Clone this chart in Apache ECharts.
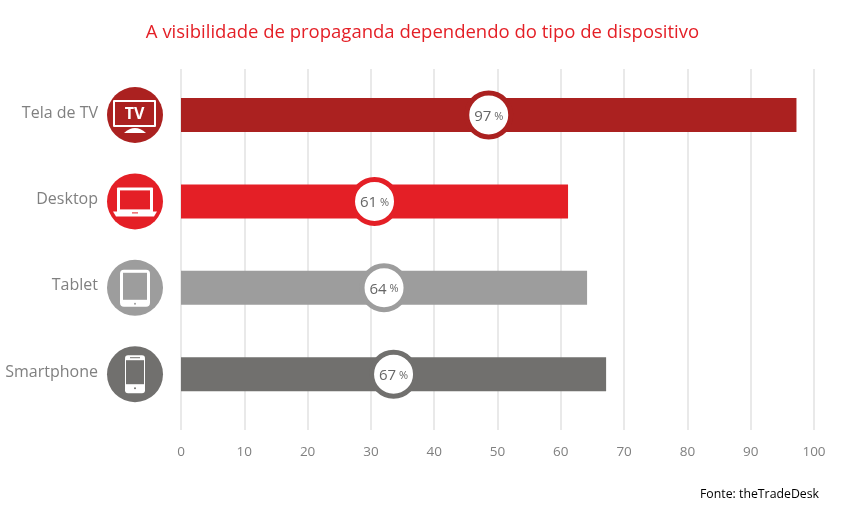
<!DOCTYPE html>
<html>
<head>
<meta charset="utf-8">
<title>Visibilidade de propaganda</title>
<script src="https://cdn.jsdelivr.net/npm/echarts@6/dist/echarts.min.js"></script>
<style>
html, body { margin: 0; padding: 0; background: #fff; }
#chart { width: 845px; height: 520px; }
</style>
</head>
<body>
<div id="chart"></div>
<script>
var titleText = 'A visibilidade de propaganda dependendo do tipo de dispositivo'
var sourceText = 'Fonte: theTradeDesk'
var categories = ['Tela de TV', 'Desktop', 'Tablet', 'Smartphone']
var values = [97, 61, 64, 67]
var colors = ['#ab2120', '#e41f26', '#9d9d9d', '#71706e']
var iconNames = ['tv', 'laptop', 'tablet', 'phone']

var fontName = '"Open Sans", sans-serif'

// 图标相对圆心绘制
function rect(x, y, w, h, fill, r) {
    return { type: 'rect', shape: { x: x, y: y, width: w, height: h, r: r || 0 }, style: { fill: fill } }
}

function getIcon(name, color) {
    if (name === 'tv') {
        return [
            rect(-22, -15, 43, 27, '#fff', 1),
            rect(-20, -13, 39, 23, color),
            { type: 'text', style: { text: 'TV', x: -0.5, y: -1, fill: '#fff', font: 'bold 16px ' + fontName, align: 'center', verticalAlign: 'middle' } },
            { type: 'path', shape: { pathData: 'M-11 18 Q0 8 11 18 Z' }, style: { fill: '#fff' } }
        ]
    }
    if (name === 'laptop') {
        return [
            rect(-18, -14, 36, 25, '#fff', 1),
            rect(-15, -11, 30, 19, color),
            { type: 'path', shape: { pathData: 'M-22 10 L22 10 L19 15 L-19 15 Z' }, style: { fill: '#fff' } },
            rect(-3, 11, 6, 1, color)
        ]
    }
    if (name === 'tablet') {
        return [
            rect(-15, -18, 30, 37, '#fff', 4),
            rect(-12, -15, 24, 27, color),
            { type: 'circle', shape: { cx: 0, cy: 16, r: 1 }, style: { fill: color } }
        ]
    }
    return [
        rect(-10, -19, 20, 38, '#fff', 3),
        rect(-9, -14, 18, 24, color),
        rect(-5, -17, 10, 1, color),
        { type: 'circle', shape: { cx: 0, cy: 14, r: 1 }, style: { fill: color } }
    ]
}

function renderIcon(params, api) {
    var pos = api.coord([0, api.value(1)])
    var color = colors[params.dataIndex]
    return {
        type: 'group',
        x: pos[0] - 46,
        y: pos[1],
        children: [
            { type: 'circle', shape: { cx: 0, cy: 0, r: 28 }, style: { fill: color } }
        ].concat(getIcon(iconNames[params.dataIndex], color))
    }
}

var option = {
    animation: false,
    backgroundColor: '#fff',
    title: [
        {
            text: titleText,
            left: 422.5,
            top: 23,
            padding: 0,
            textAlign: 'center',
            textStyle: { color: '#e41f26', fontFamily: fontName, fontSize: 18.5, fontWeight: 'normal' }
        },
        {
            text: sourceText,
            left: 700,
            top: 488,
            padding: 0,
            textStyle: { color: '#000', fontFamily: fontName, fontSize: 12.3, fontWeight: 'normal' }
        }
    ],
    grid: [
        { left: 181, width: 633, top: 69, height: 361 },
        { left: 181, width: 634.5, top: 71.8, height: 345.6 }
    ],
    xAxis: [
        {
            gridIndex: 0,
            type: 'value',
            min: 0,
            max: 100,
            interval: 10,
            axisLine: { show: false },
            axisTick: { show: false },
            splitLine: { show: true, lineStyle: { color: '#e2e2e2', width: 1.5 } },
            axisLabel: { color: '#808080', fontFamily: fontName, fontSize: 13.5, margin: 15 }
        },
        {
            gridIndex: 1,
            type: 'value',
            min: 0,
            max: 100,
            show: false
        }
    ],
    yAxis: [
        {
            gridIndex: 0,
            type: 'category',
            data: categories,
            show: false
        },
        {
            gridIndex: 1,
            type: 'category',
            inverse: true,
            data: categories,
            axisLine: { show: false },
            axisTick: { show: false },
            splitLine: { show: false },
            axisLabel: { color: '#808080', fontFamily: fontName, fontSize: 16, margin: 83, align: 'right', verticalAlign: 'bottom', lineHeight: 4 }
        }
    ],
    series: [
        {
            type: 'bar',
            xAxisIndex: 1,
            yAxisIndex: 1,
            barWidth: 34,
            data: values.map(function (v, i) {
                return { value: v, itemStyle: { color: colors[i] } }
            })
        },
        {
            type: 'scatter',
            xAxisIndex: 1,
            yAxisIndex: 1,
            symbol: 'circle',
            symbolSize: 44,
            z: 3,
            data: values.map(function (v, i) {
                return {
                    value: [v / 2, i],
                    raw: v,
                    itemStyle: { color: '#fff', borderColor: colors[i], borderWidth: 5, opacity: 1 }
                }
            }),
            label: {
                show: true,
                position: 'inside',
                offset: [0, 1.5],
                formatter: function (p) {
                    return '{n|' + p.data.raw + '}{p| %}'
                },
                rich: {
                    n: { color: '#666', fontFamily: fontName, fontSize: 15 },
                    p: { color: '#666', fontFamily: fontName, fontSize: 11 }
                }
            }
        },
        {
            type: 'custom',
            xAxisIndex: 1,
            yAxisIndex: 1,
            renderItem: renderIcon,
            silent: true,
            z: 4,
            data: categories.map(function (c, i) { return [0, i] })
        }
    ]
}

var chart = echarts.init(document.getElementById('chart'))
chart.setOption(option)
</script>
</body>
</html>
